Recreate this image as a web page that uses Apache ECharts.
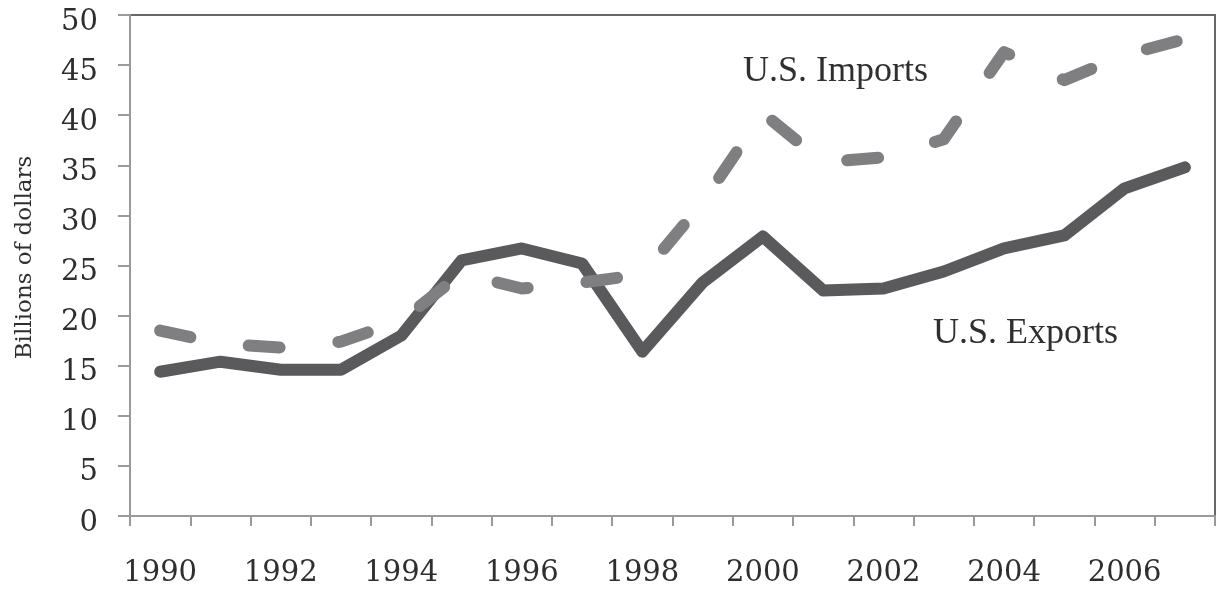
<!DOCTYPE html>
<html>
<head>
<meta charset="utf-8">
<script src="https://cdn.jsdelivr.net/npm/echarts@6/dist/echarts.min.js"></script>
<style>
  html, body { margin: 0; padding: 0; background: #fff; }
  #chart { width: 1217px; height: 592px; }
</style>
</head>
<body>
<div id="chart"></div>
<script>
// years on the x axis
const years = ["1990", "1991", "1992", "1993", "1994", "1995", "1996", "1997", "1998",
  "1999", "2000", "2001", "2002", "2003", "2004", "2005", "2006", "2007"];

// billions of dollars
const exportsData = [14.4, 15.4, 14.6, 14.6, 18.0, 25.5, 26.7, 25.2, 16.4,
  23.3, 27.9, 22.5, 22.7, 24.4, 26.7, 28.0, 32.7, 34.8];
const importsData = [18.5, 17.2, 16.8, 17.4, 19.5, 24.2, 22.7, 23.3, 24.1,
  31.3, 40.2, 35.3, 35.8, 37.6, 46.3, 43.5, 46.0, 47.6];

const yTicks = [0, 5, 10, 15, 20, 25, 30, 35, 40, 45, 50];

const chart = echarts.init(document.getElementById("chart"));

const options = {
  animation: false,
  backgroundColor: "#ffffff",
  grid: {
    left: 130,
    top: 15,
    right: 2,
    bottom: 76,
    containLabel: false,
    outerBoundsMode: "none",
    show: true,
    borderColor: "#68686b",
    borderWidth: 2,
  },
  xAxis: {
    type: "category",
    data: years,
    boundaryGap: true,
    axisLine: { lineStyle: { color: "#9a9a9c", width: 2 } },
    axisTick: {
      show: true,
      alignWithLabel: false,
      interval: 0,
      length: 10,
      lineStyle: { color: "#9a9a9c", width: 2 },
    },
    axisLabel: {
      interval: 1,
      margin: 43,
      fontFamily: "DejaVu Serif",
      fontSize: 29,
      color: "#2e2e2e",
    },
    splitLine: { show: false },
  },
  yAxis: {
    type: "value",
    min: yTicks[0],
    max: yTicks[yTicks.length - 1],
    interval: 5,
    name: "Billions of dollars",
    nameLocation: "middle",
    nameGap: 93,
    nameTextStyle: {
      fontFamily: "DejaVu Serif",
      fontSize: 23,
      color: "#2e2e2e",
      padding: [0, 0, 0, 16],
    },
    axisLine: { show: true, lineStyle: { color: "#9a9a9c", width: 2 } },
    axisTick: { show: true, length: 12, lineStyle: { color: "#9a9a9c", width: 2 } },
    axisLabel: {
      margin: 32,
      fontFamily: "DejaVu Serif",
      fontSize: 29,
      color: "#2e2e2e",
      verticalAlign: "top",
      lineHeight: 14,
    },
    splitLine: { show: false },
  },
  graphic: [
    {
      type: "text",
      left: 743,
      top: 54,
      style: {
        text: "U.S. Imports",
        font: "36px 'Liberation Serif'",
        fill: "#2f2f2f",
      },
    },
    {
      type: "text",
      left: 933,
      top: 316,
      style: {
        text: "U.S. Exports",
        font: "36px 'Liberation Serif'",
        fill: "#2f2f2f",
      },
    },
  ],
  series: [
    {
      name: "U.S. Exports",
      type: "line",
      data: exportsData,
      showSymbol: false,
      symbol: "none",
      lineStyle: {
        color: "#5a5a5c",
        width: 12,
        cap: "round",
        join: "round",
      },
    },
    {
      name: "U.S. Imports",
      type: "line",
      data: importsData,
      showSymbol: false,
      symbol: "none",
      lineStyle: {
        color: "#7f7f82",
        width: 12,
        type: [31, 59],
        cap: "round",
        join: "round",
      },
    },
  ],
};

chart.setOption(options);
</script>
</body>
</html>
